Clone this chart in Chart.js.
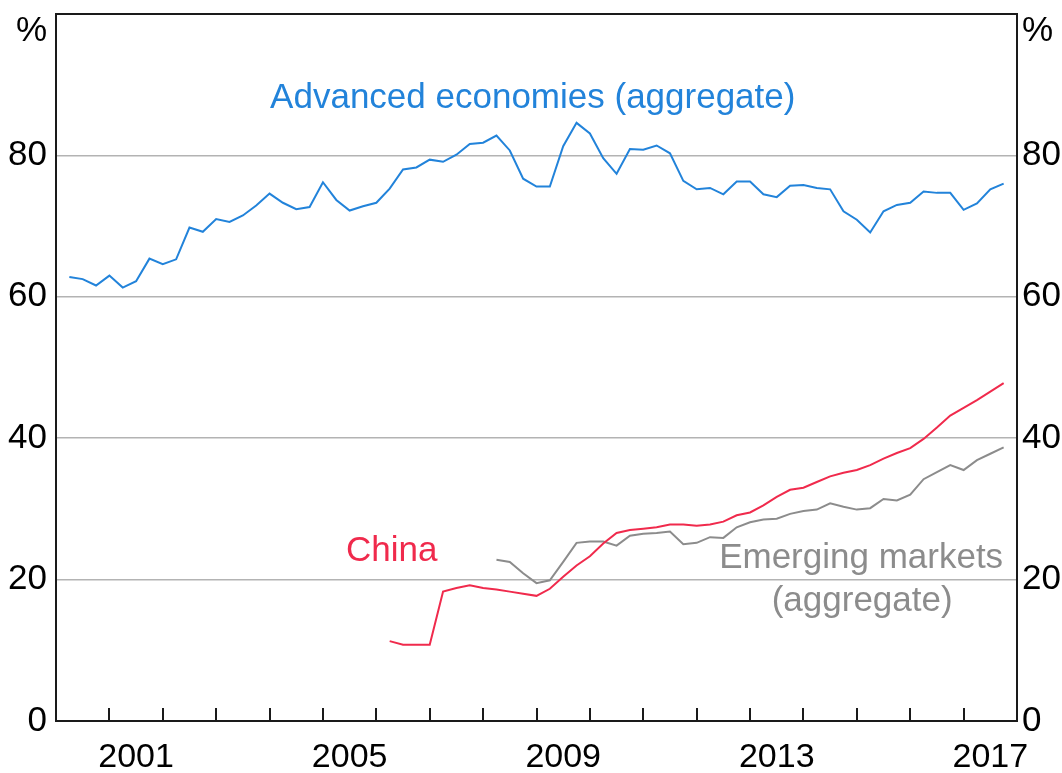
<!DOCTYPE html>
<html>
<head>
<meta charset="utf-8">
<script src="https://cdn.jsdelivr.net/npm/chart.js@4.4.1/dist/chart.umd.min.js"></script>
<style>
  body { margin: 0; background: #fff; }
</style>
</head>
<body>
<canvas id="chart" width="1062" height="773"></canvas>
<script>
// quarterly, plotted at quarter end, Mar-2000 .. Sep-2017
const firstYear = 2000;
const quarterCount = 71;
const quarters = [];
for (let i = 1; i <= quarterCount; i++) quarters.push(firstYear + i / 4);

const advanced = [
  62.8, 62.5, 61.6, 63.0, 61.3, 62.2, 65.4, 64.6, 65.3, 69.8,
  69.2, 71.0, 70.6, 71.5, 72.9, 74.6, 73.3, 72.4, 72.7, 76.2,
  73.7, 72.2, 72.8, 73.3, 75.3, 78.0, 78.3, 79.4, 79.1, 80.1,
  81.6, 81.8, 82.8, 80.7, 76.7, 75.6, 75.6, 81.3, 84.6, 83.1,
  79.6, 77.4, 80.9, 80.8, 81.4, 80.3, 76.4, 75.2, 75.4, 74.5,
  76.3, 76.3, 74.5, 74.1, 75.7, 75.8, 75.4, 75.2, 72.1, 70.9,
  69.1, 72.1, 73.0, 73.3, 74.9, 74.7, 74.7, 72.3, 73.2, 75.2,
  76.0
];

// China starts Mar-2006 (quarter 25)
const chinaStart = 25;
const china = [
  11.3, 10.8, 10.8, 10.8, 18.3, 18.8, 19.2, 18.8, 18.6, 18.3,
  18.0, 17.7, 18.7, 20.4, 22.0, 23.3, 25.1, 26.6, 27.0, 27.2,
  27.4, 27.8, 27.8, 27.6, 27.8, 28.2, 29.1, 29.5, 30.5, 31.7,
  32.7, 33.0, 33.8, 34.6, 35.1, 35.5, 36.2, 37.1, 37.9, 38.6,
  39.9, 41.5, 43.2, 44.3, 45.4, 46.6, 47.8
];

// Emerging markets start Mar-2008 (quarter 33)
const emergingStart = 33;
const emerging = [
  22.8, 22.5, 20.9, 19.5, 19.9, 22.5, 25.2, 25.4, 25.4, 24.8,
  26.2, 26.5, 26.6, 26.8, 25.0, 25.2, 26.0, 25.9, 27.4, 28.1,
  28.5, 28.6, 29.3, 29.7, 29.9, 30.8, 30.3, 29.9, 30.1, 31.4,
  31.2, 32.0, 34.2, 35.2, 36.2, 35.5, 36.9, 37.8, 38.7
];

const yearLabels = ['2001', '2005', '2009', '2013', '2017'];
const yTicks = [0, 20, 40, 60, 80];

const FONT = "'Liberation Sans', Arial, sans-serif";
const BLUE = '#2283da';
const RED = '#f02a4c';
const GREY = '#8c8c8c';

function toPoints(values, start) {
  return values.map((v, i) => ({ x: quarters[start - 1 + i], y: v }));
}

function noPad(s) {
  s.paddingTop = 0;
  s.paddingBottom = 0;
  s.paddingLeft = 0;
  s.paddingRight = 0;
}

// frame, inward year ticks, unit labels and series labels
const decorations = {
  id: 'decorations',
  afterDraw(chart) {
    const { ctx, chartArea: a, scales } = chart;
    const x = scales.x, y = scales.y;
    ctx.save();
    ctx.strokeStyle = '#1a1a1a';
    ctx.lineWidth = 2;
    for (let yr = 2001; yr <= 2017; yr++) {
      const px = Math.round(x.getPixelForValue(yr));
      ctx.beginPath();
      ctx.moveTo(px, a.bottom);
      ctx.lineTo(px, a.bottom - 13);
      ctx.stroke();
    }
    ctx.strokeRect(a.left, a.top, a.right - a.left, a.bottom - a.top);

    ctx.font = '35px ' + FONT;
    ctx.fillStyle = '#000';
    ctx.textBaseline = 'middle';
    ctx.textAlign = 'right';
    ctx.fillText('%', a.left - 9, a.top + 17);
    ctx.textAlign = 'left';
    ctx.fillText('%', a.right + 5, a.top + 17);

    ctx.textBaseline = 'alphabetic';
    ctx.textAlign = 'center';
    ctx.fillStyle = BLUE;
    ctx.fillText('Advanced economies (aggregate)', x.getPixelForValue(2008.93), y.getPixelForValue(86.7));
    ctx.fillStyle = RED;
    ctx.fillText('China', x.getPixelForValue(2006.29), y.getPixelForValue(22.7));
    ctx.fillStyle = GREY;
    ctx.textAlign = 'right';
    ctx.fillText('Emerging markets', x.getPixelForValue(2017.74), y.getPixelForValue(21.6));
    ctx.textAlign = 'center';
    ctx.fillText('(aggregate)', x.getPixelForValue(2015.1), y.getPixelForValue(15.6));
    ctx.restore();
  }
};

new Chart(document.getElementById('chart'), {
  type: 'line',
  data: {
    datasets: [
      { label: 'Advanced economies (aggregate)', data: toPoints(advanced, 1), borderColor: BLUE },
      { label: 'China', data: toPoints(china, chinaStart), borderColor: RED },
      { label: 'Emerging markets (aggregate)', data: toPoints(emerging, emergingStart), borderColor: GREY }
    ]
  },
  options: {
    responsive: false,
    animation: false,
    layout: { padding: { top: 14, left: 0, right: 0, bottom: 0 } },
    elements: {
      line: { borderWidth: 2, tension: 0, fill: false },
      point: { radius: 0 }
    },
    plugins: {
      legend: { display: false },
      tooltip: { enabled: false }
    },
    scales: {
      x: {
        type: 'linear',
        min: 2000,
        max: 2018,
        afterBuildTicks: s => { s.ticks = yearLabels.map(l => ({ value: Number(l) + 0.5 })); },
        afterFit: s => { s.height = 52; noPad(s); },
        ticks: {
          color: '#000',
          font: { family: FONT, size: 34 },
          padding: 16,
          maxRotation: 0,
          autoSkip: false,
          callback: v => String(Math.floor(v))
        },
        grid: { display: false, drawTicks: false },
        border: { display: false }
      },
      y: {
        position: 'left',
        min: 0,
        max: 100,
        afterBuildTicks: s => { s.ticks = yTicks.map(v => ({ value: v })); },
        afterFit: s => { s.width = 56; noPad(s); },
        ticks: {
          color: '#000',
          font: { family: FONT, size: 35 },
          padding: 9
        },
        grid: {
          drawTicks: false,
          lineWidth: 1.5,
          color: c => (c.tick.value === 0 ? 'rgba(0,0,0,0)' : '#b3b3b3')
        },
        border: { display: false }
      },
      y2: {
        position: 'right',
        min: 0,
        max: 100,
        afterBuildTicks: s => { s.ticks = yTicks.map(v => ({ value: v })); },
        afterFit: s => { s.width = 45; noPad(s); },
        ticks: {
          color: '#000',
          font: { family: FONT, size: 35 },
          padding: 5
        },
        grid: { drawOnChartArea: false, drawTicks: false },
        border: { display: false }
      }
    }
  },
  plugins: [decorations]
});
</script>
</body>
</html>
